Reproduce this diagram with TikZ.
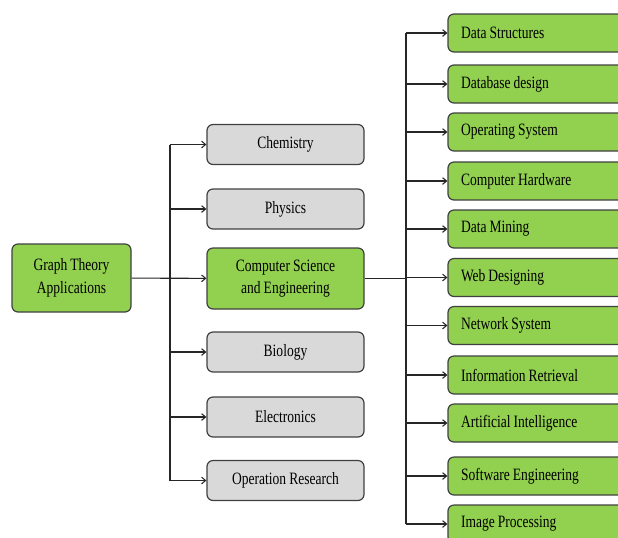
\documentclass[tikz,border=0pt]{standalone}
\usepackage{fontspec}
\setmainfont{Liberation Serif}[FakeStretch=0.78, WordSpace=0.9]
\usepackage{tikz}
\usepackage{xcolor}
\usetikzlibrary{arrows.meta,positioning,calc}
\definecolor{leafgreen}{RGB}{146,208,80}
\definecolor{boxgray}{RGB}{217,217,217}
\definecolor{edgegray}{RGB}{64,64,64}
\newcommand{\topictext}[1]{\makebox[117pt][l]{#1}}

\tikzset{
  box/.style={rectangle, rounded corners=4.5pt, draw=edgegray, line width=0.9pt,
    font=\fontsize{13}{17}\selectfont, align=center, inner sep=0pt},
  rootbox/.style={box, fill=leafgreen, minimum width=89.25pt, minimum height=51pt},
  fieldbox/.style={box, fill=boxgray, minimum width=117.75pt, minimum height=30pt},
  csbox/.style={box, fill=leafgreen, minimum width=117.75pt, minimum height=45.75pt},
  topicbox/.style={box, fill=leafgreen, inner xsep=9.75pt, minimum height=28.5pt},
  arr/.style={-{Straight Barb[length=3pt,width=5pt]}, line width=0.8pt, black!85},
  bus/.style={line width=0.8pt, black!85}
}

\begin{document}
\begin{tikzpicture}[x=0.75pt, y=-0.75pt]
\useasboundingbox (0,0) rectangle (618,537);
\clip (0,0) rectangle (618,537);

% Radice
\node[rootbox] (root) at (71.5,278) {Graph Theory\\Applications};

% Campi
\node[fieldbox] (chem) at (285.5,144.5) {Chemistry};
\node[fieldbox] (phys) at (285.5,209) {Physics};
\node[csbox] (cse) at (285.5,278.5) {Computer Science\\and Engineering};
\node[fieldbox] (bio) at (285.5,352) {Biology};
\node[fieldbox] (elec) at (285.5,417) {Electronics};
\node[fieldbox] (opres) at (285.5,480.5) {Operation Research};

\coordinate (lbus) at (170,0);
\draw[bus] (lbus |- chem) -- (lbus |- opres);
\draw[arr] (root) -- (cse);
\foreach \f in {chem,phys,bio,elec,opres}
  \draw[arr] (lbus |- \f) -- (\f);

% Argomenti di informatica
\node[topicbox] (ds) at (539,33) {\topictext{Data Structures}};
\node[topicbox] (db) at (539,84) {\topictext{Database design}};
\node[topicbox] (os) at (539,132) {\topictext{Operating System}};
\node[topicbox] (hw) at (539,181) {\topictext{Computer Hardware}};
\node[topicbox] (dm) at (539,229) {\topictext{Data Mining}};
\node[topicbox] (web) at (539,277.5) {\topictext{Web Designing}};
\node[topicbox] (net) at (539,325.5) {\topictext{Network System}};
\node[topicbox] (ir) at (539,375) {\topictext{Information Retrieval}};
\node[topicbox] (ai) at (539,423) {\topictext{Artificial Intelligence}};
\node[topicbox] (se) at (539,476) {\topictext{Software Engineering}};
\node[topicbox] (ip) at (539,524) {\topictext{Image Processing}};

\coordinate (rbus) at (406,0);
\draw[bus] (cse) -- (rbus |- cse);
\draw[bus] (rbus |- ds) -- (rbus |- ip);
\foreach \t in {ds,db,os,hw,dm,web,net,ir,ai,se,ip}
  \draw[arr] (rbus |- \t) -- (\t);
\end{tikzpicture}
\end{document}
